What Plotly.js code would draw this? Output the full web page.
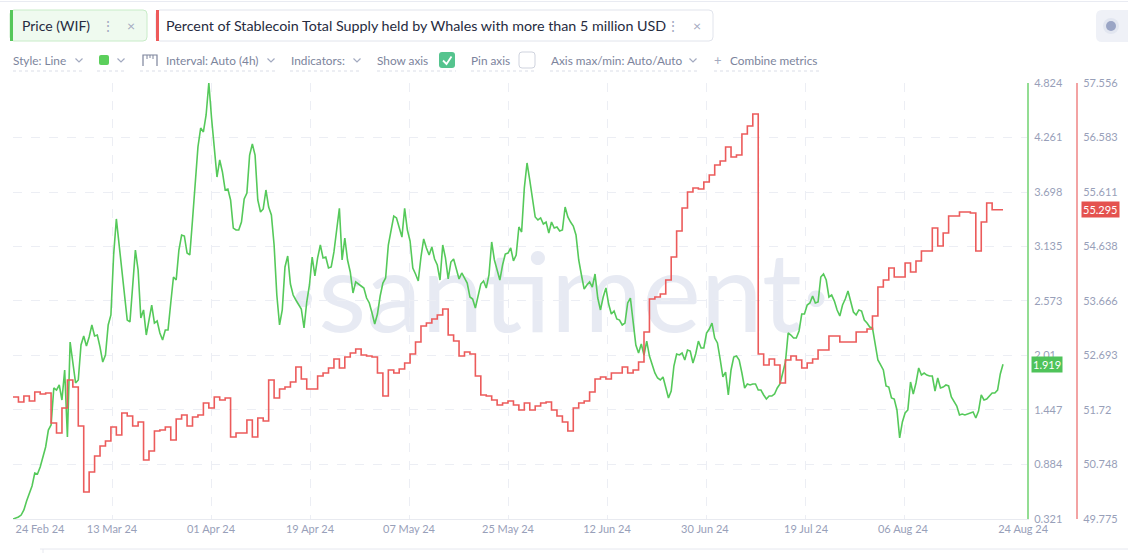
<!DOCTYPE html>
<html><head><meta charset="utf-8">
<script src="https://cdn.plot.ly/plotly-3.0.1.min.js"></script>
<style>html,body{margin:0;padding:0;background:#fff;overflow:hidden}#chart{width:1128px;height:553px}</style>
</head><body><div id="chart"></div>
<script>
// ---------------- DATA ----------------
// Price (WIF), 12-hour samples starting 24 Feb 2024
const priceWIF = [
0.321,0.331,0.342,0.362,0.414,0.507,0.579,0.662,0.796,0.786,
0.858,0.951,1.065,1.240,1.292,1.674,1.653,1.705,1.550,1.860,
1.168,2.149,1.912,1.726,1.757,2.118,2.211,2.108,2.201,2.325,
2.211,2.221,2.097,1.942,2.015,2.325,2.428,3.048,3.420,3.172,
2.913,2.634,2.376,2.356,2.686,3.099,2.893,2.397,2.480,2.221,
2.376,2.531,2.345,2.366,2.242,2.170,2.273,2.273,2.552,2.820,
2.789,3.099,3.254,3.244,3.068,3.048,3.409,3.812,4.163,4.359,
4.318,4.494,4.824,4.463,4.132,3.853,4.029,3.905,3.719,3.729,
3.616,3.326,3.306,3.306,3.388,3.626,3.688,4.080,4.194,4.080,
3.616,3.492,3.523,3.719,3.543,3.461,3.151,2.634,2.325,2.480,
2.924,3.037,2.748,2.634,2.583,2.531,2.490,2.294,2.562,2.738,
3.027,2.831,3.017,3.151,3.017,3.027,2.913,2.924,3.079,3.306,
3.530,2.996,3.223,2.996,2.872,2.655,2.769,2.748,2.727,2.707,
2.603,2.552,2.449,2.335,2.438,2.624,2.758,2.810,3.151,3.285,
3.450,3.430,3.316,3.233,3.530,3.306,3.192,2.913,2.851,2.779,
3.027,3.213,3.120,3.048,3.130,3.006,2.944,2.789,3.151,3.017,
2.800,2.975,3.006,2.893,2.800,2.862,2.810,2.758,2.614,2.593,
2.500,2.624,2.748,2.779,2.707,2.841,3.182,2.996,2.882,2.789,
2.944,3.058,3.068,3.120,2.986,3.048,3.337,3.285,3.740,3.998,
3.822,3.647,3.440,3.409,3.430,3.368,3.388,3.275,3.388,3.326,
3.337,3.295,3.306,3.543,3.440,3.388,3.347,3.254,2.996,2.841,
2.696,2.738,2.769,2.717,2.851,2.603,2.480,2.614,2.707,2.541,
2.438,2.469,2.387,2.376,2.325,2.345,2.552,2.603,2.356,2.118,
2.035,2.128,2.015,2.159,2.004,1.922,1.829,1.777,1.757,1.788,
1.684,1.571,1.643,1.901,2.025,2.015,2.035,1.963,2.066,2.056,
1.932,2.025,2.159,2.087,2.087,2.242,2.283,2.345,2.190,2.139,
1.973,1.788,1.839,1.602,1.860,1.994,2.004,1.963,1.829,1.674,
1.715,1.705,1.715,1.715,1.653,1.653,1.602,1.560,1.591,1.591,
1.612,1.674,1.715,1.819,1.942,2.242,2.221,2.190,2.190,2.263,
2.438,2.438,2.531,2.552,2.624,2.552,2.562,2.820,2.851,2.789,
2.614,2.634,2.572,2.480,2.418,2.531,2.593,2.676,2.562,2.459,
2.428,2.480,2.469,2.376,2.345,2.304,2.294,2.118,1.963,1.912,
1.860,1.695,1.684,1.571,1.560,1.447,1.158,1.323,1.416,1.447,
1.736,1.612,1.726,1.881,1.808,1.829,1.808,1.798,1.798,1.643,
1.777,1.674,1.684,1.705,1.695,1.581,1.540,1.488,1.395,1.405,
1.395,1.405,1.416,1.426,1.364,1.436,1.602,1.550,1.560,1.591,
1.622,1.622,1.653,1.819,1.919
];
// Percent of stablecoin supply held by whales (>5M USD), daily from 24 Feb 2024
const whalePct = [
51.952,51.863,51.970,51.881,52.041,52.006,52.024,51.488,51.310,51.756,
52.256,52.131,51.435,50.257,50.614,50.899,51.078,51.167,51.417,51.274,
51.667,51.613,51.435,51.506,50.828,50.989,51.345,51.363,51.417,51.185,
51.560,51.631,51.435,51.595,51.631,51.845,51.756,51.952,51.899,51.934,
51.238,51.310,51.310,51.542,51.238,51.577,51.524,52.256,51.934,52.095,
52.131,52.220,52.488,52.273,52.095,52.095,52.327,52.381,52.470,52.630,
52.470,52.666,52.737,52.809,52.702,52.684,52.666,52.381,51.970,52.434,
52.381,52.452,52.559,52.720,52.934,53.219,53.273,53.344,53.416,53.523,
53.059,52.952,52.684,52.755,52.720,52.327,51.988,51.970,51.899,51.809,
51.845,51.881,51.809,51.720,51.845,51.720,51.792,51.845,51.863,51.720,
51.613,51.506,51.345,51.756,51.845,51.881,52.041,52.273,52.309,52.273,
52.381,52.381,52.488,52.381,52.434,52.577,53.112,53.701,53.737,53.790,
54.040,54.451,54.915,55.325,55.611,55.682,55.664,55.789,55.914,56.092,
56.164,56.414,56.235,56.271,56.646,56.788,57.003,52.720,52.523,52.630,
52.523,52.202,52.613,52.684,52.613,52.470,52.559,52.630,52.791,52.791,
53.041,53.041,52.934,52.934,52.934,53.112,53.112,53.166,53.398,53.915,
54.040,54.254,54.094,54.094,54.344,54.183,54.379,54.558,54.558,54.968,
54.647,54.879,55.182,55.182,55.254,55.254,55.236,54.558,55.075,55.414,
55.295,55.295,55.295
];
const xTickLabels = ['24 Feb 24','13 Mar 24','01 Apr 24','19 Apr 24','07 May 24','25 May 24','12 Jun 24','30 Jun 24','19 Jul 24','06 Aug 24','24 Aug 24'];
const priceTicks = [0.321,0.884,1.447,2.01,2.573,3.135,3.698,4.261,4.824];
const pctTicks = [49.775,50.748,51.72,52.693,53.666,54.638,55.611,56.583,57.556];
const metricNames = ['Price (WIF)','Percent of Stablecoin Total Supply held by Whales with more than 5 million USD'];

// ---------------- LAYOUT HELPERS ----------------
const W=1128,H=553,ML=13,MR=16,MT=83,MB=34;
const PW=W-ML-MR, PH=H-MT-MB;
const px=x=>(x-ML)/PW, py=y=>(H-MB-y)/PH;
const t0=Date.UTC(2024,1,24), DAY=864e5;
const toDate=ms=>new Date(ms).toISOString().slice(0,19).replace('T',' ');
const greenX=priceWIF.map((v,i)=>toDate(t0+i*DAY/2));
const redX=whalePct.map((v,i)=>toDate(t0+i*DAY));
const labelDays=[4.96,18.2,36.4,54.6,72.8,91.0,109.2,127.2,145.8,163.6,185.7];
const gridDays=[0,18.2,36.4,54.6,72.8,91.0,109.2,127.4,145.6,163.8];
const FONT='Lato, "Open Sans", sans-serif';

function P(pts){return pts.map((p,i)=>(i?'L':'M')+px(p[0])+','+py(p[1])).join(' ');}
function rr(x0,y0,x1,y1,r){
  const f=(x,y)=>px(x)+','+py(y);
  return 'M'+f(x0+r,y0)+' L'+f(x1-r,y0)+' Q'+f(x1,y0)+' '+f(x1,y0+r)+' L'+f(x1,y1-r)+' Q'+f(x1,y1)+' '+f(x1-r,y1)+
    ' L'+f(x0+r,y1)+' Q'+f(x0,y1)+' '+f(x0,y1-r)+' L'+f(x0,y0+r)+' Q'+f(x0,y0)+' '+f(x0+r,y0)+' Z';
}
const shapes=[], ann=[];
function S(o){shapes.push(Object.assign({xref:'paper',yref:'paper'},o));}
function T(text,x,y,size,color,anchor,extra){ann.push(Object.assign({xref:'paper',yref:'paper',x:px(x),y:py(y),text:text,showarrow:false,xanchor:anchor||'left',yanchor:'middle',borderpad:0,font:{family:FONT,size:size,color:color}},extra||{}));}

// watermark behind traces
S({type:'rect',layer:'below',x0:px(300),x1:px(820),y0:py(337),y1:py(239),line:{width:0},fillcolor:'rgba(0,0,0,0)',
   label:{text:'·santiment·',textposition:'middle center',font:{family:'Lato, sans-serif',size:111,color:'#e7eaf3'}}});

// top border line
S({type:'line',x0:px(0),x1:px(W),y0:py(1.5),y1:py(1.5),line:{color:'#e9ebf2',width:1}});
// metric chips
S({type:'path',path:rr(10,10,147,41,4),fillcolor:'#effaef',line:{color:'#c8ecc8',width:1}});
S({type:'rect',x0:px(10),x1:px(13),y0:py(41),y1:py(10),fillcolor:'#56c75a',line:{width:0}});
S({type:'path',path:rr(156,10,713,41,4),fillcolor:'#ffffff',line:{color:'#e1e4ec',width:1}});
S({type:'rect',x0:px(156),x1:px(159),y0:py(41),y1:py(10),fillcolor:'#ee5a5a',line:{width:0}});
T(metricNames[0],21,26,14,'#262b40');
T('⋮',108,26,14,'#a3aac0','center');
T('×',131,26,14,'#a3aac0','center');
T(metricNames[1],165,26,14.3,'#262b40');
T('⋮',673,26,14,'#a3aac0','center');
T('×',697,26,14,'#a3aac0','center');
// top-right button
S({type:'path',path:rr(1096,10,1134,42,6),fillcolor:'#eff1f7',line:{width:0}});
S({type:'circle',x0:px(1103),x1:px(1119),y0:py(34),y1:py(18),fillcolor:'#e2e6f0',line:{width:0}});
S({type:'circle',x0:px(1106),x1:px(1116),y0:py(31),y1:py(21),fillcolor:'#9aa5c5',line:{width:0}});

// toolbar
const TB='#7c849c', CH='#a3aac0', TY=60, TS=11.8;
T('Style: Line',12,TY,TS,TB);
S({type:'path',path:rr(99,55,109,65,2),fillcolor:'#5ccf5c',line:{width:0}});
[79,121,271,357,693].forEach(c=>S({type:'path',path:P([[c-3.5,TY-1.5],[c,TY+2],[c+3.5,TY-1.5]]),line:{color:CH,width:1.2}}));
S({type:'path',path:P([[143,66],[143,55],[157,55],[157,66]]),line:{color:TB,width:1.2}});
[[147,59],[150,58],[153,59]].forEach(t=>S({type:'path',path:P([[t[0],55],[t[0],t[1]]]),line:{color:TB,width:1}}));
T('Interval: Auto (4h)',165,TY,TS,TB);
T('Indicators:',290,TY,TS,TB);
T('Show axis',376,TY,TS,TB);
S({type:'path',path:rr(439,52,455,68,3),fillcolor:'#55c48e',line:{width:0}});
S({type:'path',path:P([[443,60.5],[446.5,64],[451.5,56.5]]),line:{color:'#ffffff',width:1.8}});
T('Pin axis',470,TY,TS,TB);
S({type:'path',path:rr(519,52,535,68,3),fillcolor:'#ffffff',line:{color:'#cfd3de',width:1}});
T('Axis max/min: Auto/Auto',550,TY,TS,TB);
T('+',718,TY,13,CH,'center');
T('Combine metrics',729,TY,TS,TB);
[[13,84],[97,127],[140,276],[290,362],[377,456],[471,536],[550,698],[714,819]].forEach(s=>
  S({type:'line',x0:px(s[0]),x1:px(s[1]),y0:py(71),y1:py(71),line:{color:'#dadde7',width:1,dash:'dot'}}));

// bottom strip
S({type:'line',x0:px(40),x1:px(W),y0:py(549),y1:py(549),line:{color:'#e6e8ef',width:1}});
S({type:'line',x0:px(43),x1:px(43),y0:py(549),y1:py(553),line:{color:'#e6e8ef',width:1}});

// last-value badges
ann.push({xref:'paper',yref:'y',x:px(1031),xanchor:'left',y:priceWIF[priceWIF.length-1],yanchor:'middle',
  text:priceWIF[priceWIF.length-1].toFixed(3),showarrow:false,bgcolor:'#4fc35a',borderpad:1,font:{family:FONT,size:11,color:'#ffffff'}});
ann.push({xref:'paper',yref:'y2',x:px(1081),xanchor:'left',y:whalePct[whalePct.length-1],yanchor:'middle',
  text:whalePct[whalePct.length-1].toFixed(3),showarrow:false,bgcolor:'#e4524f',borderpad:1,font:{family:FONT,size:11,color:'#ffffff'}});

const tickFont={family:FONT,size:11,color:'#98a0b9'};
const traces=[
  {x:redX,y:whalePct,yaxis:'y2',type:'scatter',mode:'lines',name:metricNames[1],line:{color:'#ec5b5b',width:1.6,shape:'hv'},hoverinfo:'skip'},
  {x:greenX,y:priceWIF,yaxis:'y',type:'scatter',mode:'lines',name:metricNames[0],line:{color:'#55c95a',width:1.6},hoverinfo:'skip'}
];
const layout={
  width:W,height:H,margin:{l:ML,r:MR,t:MT,b:MB},paper_bgcolor:'#fff',plot_bgcolor:'#fff',showlegend:false,
  xaxis:{type:'date',domain:[0,px(1027)],range:[toDate(t0),toDate(t0+186.41*DAY)],tickmode:'array',
    tickvals:labelDays.map(d=>toDate(t0+d*DAY)),ticktext:xTickLabels,showgrid:false,showline:true,linecolor:'#e8eaf0',
    ticks:'',tickfont:tickFont,zeroline:false,fixedrange:true,
    minor:{tickmode:'array',tickvals:gridDays.map(d=>toDate(t0+d*DAY)),showgrid:true,gridcolor:'#eceef4',griddash:'dash',gridwidth:1,ticks:''}},
  yaxis:{range:[0.321,4.824],side:'right',anchor:'x',tickmode:'array',tickvals:priceTicks,ticktext:priceTicks.map(String),
    showgrid:true,gridcolor:'#eceef4',griddash:'dash',showline:true,linecolor:'#93dd93',linewidth:2,ticks:'',
    ticklabelstandoff:3,tickfont:tickFont,zeroline:false,fixedrange:true},
  yaxis2:{range:[49.775,57.556],overlaying:'y',side:'right',anchor:'free',position:px(1077),tickmode:'array',tickvals:pctTicks,
    ticktext:pctTicks.map(String),showgrid:false,showline:true,linecolor:'#f3a3a3',linewidth:2,ticks:'',
    ticklabelstandoff:3,tickfont:tickFont,zeroline:false,fixedrange:true},
  shapes:shapes,annotations:ann
};
Plotly.newPlot('chart',traces,layout,{displayModeBar:false,staticPlot:true});
</script></body></html>
